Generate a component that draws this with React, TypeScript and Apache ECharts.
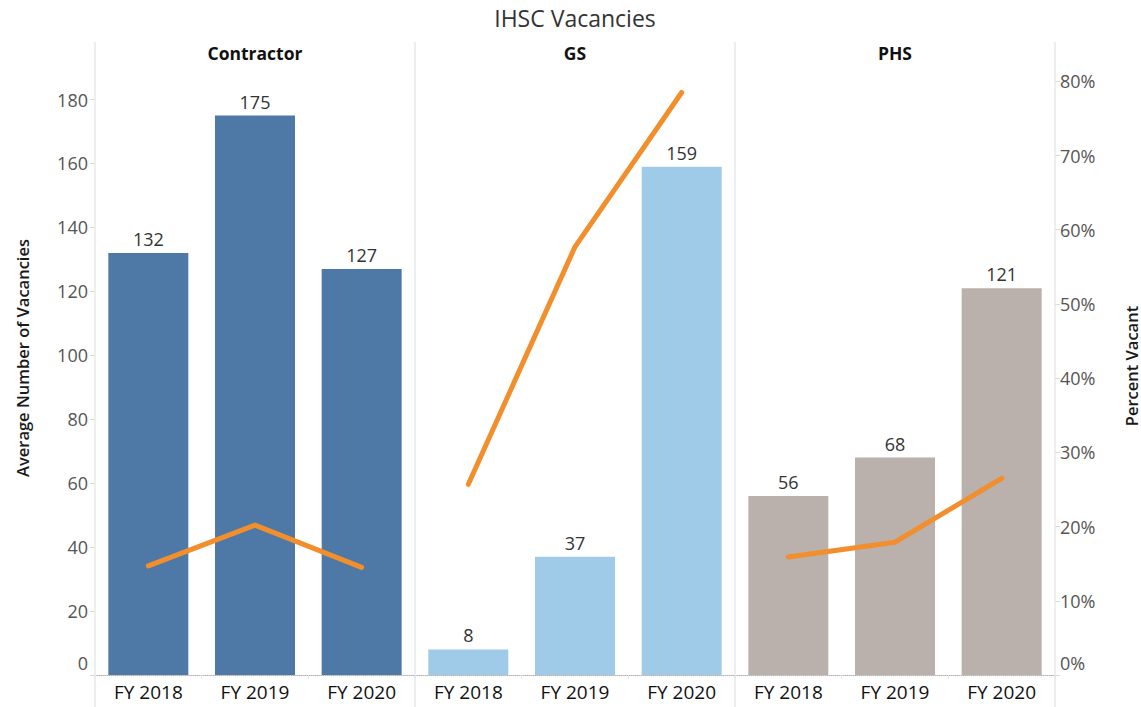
import React, { useEffect, useRef } from "react";
import * as echarts from "echarts";

const title = "IHSC Vacancies";
const panels = ["Contractor", "GS", "PHS"];
const years = ["FY 2018", "FY 2019", "FY 2020"];
const vacancies = [
  [132, 175, 127],
  [8, 37, 159],
  [56, 68, 121],
];
const percentVacant = [
  [0.147, 0.202, 0.145],
  [0.257, 0.577, 0.785],
  [0.159, 0.179, 0.265],
];
const barColors = ["#4e79a7", "#a0cbe8", "#bab0ac"];
const lineColor = "#f28e2b";
const leftAxisName = "Average Number of Vacancies";
const rightAxisName = "Percent Vacant";

const FONT = "'Open Sans', 'Noto Sans', sans-serif";

export default function App() {
  const ref = useRef<HTMLDivElement>(null);
  useEffect(() => {
    document.body.style.margin = "0";
    if (!ref.current) return;
    const chart = echarts.init(ref.current, null, { renderer: "svg" });
    const gridLeft = 95;
    const gridW = 320;
    const top = 42;
    const bottomY = 675;
    const H = 707;
    const grids = panels.map((_, i) => ({
      left: gridLeft + i * gridW,
      top,
      width: gridW,
      height: bottomY - top,
    }));
    const xAxes = panels.map((_, i) => ({
      type: "category",
      gridIndex: i,
      data: years,
      axisLine: { show: true, lineStyle: { color: "#b5b5b5", type: "dotted", width: 1 } },
      axisTick: { show: true, length: 4, lineStyle: { color: "#e6e6e6" } },
      axisLabel: { color: "#111", fontSize: 19, fontFamily: FONT, margin: 7 },
    }));
    const yAxes: any[] = [];
    panels.forEach((_, i) => {
      yAxes.push({
        type: "value",
        gridIndex: i,
        position: "left",
        min: 0,
        max: 198,
        interval: 20,
        splitLine: { show: false },
        axisLine: { show: false },
        axisTick: { show: i === 0, length: 5, lineStyle: { color: "#dcdcdc" } },
        axisLabel: {
          show: i === 0,
          color: "#555",
          fontSize: 18,
          fontFamily: FONT,
          margin: 7,
          showMaxLabel: false,
          formatter: (v: number) => (v === 0 ? "{z|0}" : String(v)),
          rich: { z: { padding: [0, 0, 24, 0], fontSize: 18, fontFamily: FONT, color: "#555" } },
        },
      });
      yAxes.push({
        type: "value",
        gridIndex: i,
        position: "right",
        min: 0,
        max: 0.853,
        interval: 0.1,
        splitLine: { show: false },
        axisLine: { show: false },
        axisTick: { show: i === 2, length: 5, inside: false, lineStyle: { color: "#dcdcdc" } },
        axisLabel: {
          show: i === 2,
          color: "#555",
          fontSize: 18,
          fontFamily: FONT,
          margin: 5,
          showMaxLabel: false,
          formatter: (v: number) => {
            const s = Math.round(v * 100) + "%";
            return v === 0 ? "{z|" + s + "}" : s;
          },
          rich: { z: { padding: [0, 0, 24, 0], fontSize: 18, fontFamily: FONT, color: "#555" } },
        },
      });
    });
    const series: any[] = [];
    panels.forEach((_, i) => {
      series.push({
        type: "bar",
        xAxisIndex: i,
        yAxisIndex: 2 * i,
        data: vacancies[i],
        barCategoryGap: "25%",
        itemStyle: { color: barColors[i] },
        label: {
          show: true,
          position: "top",
          distance: 5,
          color: "#333",
          fontSize: 18,
          fontFamily: FONT,
        },
        z: 2,
      });
      series.push({
        type: "line",
        xAxisIndex: i,
        yAxisIndex: 2 * i + 1,
        data: percentVacant[i],
        symbol: "none",
        lineStyle: { color: lineColor, width: 5, cap: "round", join: "round" },
        z: 3,
      });
    });
    const graphics: any[] = [];
    for (let k = 0; k <= 3; k++) {
      const x = gridLeft + k * gridW;
      graphics.push({
        type: "line",
        shape: { x1: x, y1: top, x2: x, y2: H },
        style: { stroke: "#dedede", lineWidth: 1 },
        silent: true,
      });
    }
    panels.forEach((p, i) => {
      graphics.push({
        type: "text",
        x: gridLeft + i * gridW + gridW / 2,
        y: 53,
        style: {
          text: p,
          fill: "#111",
          font: `bold 17.5px ${FONT}`,
          textAlign: "center",
          textVerticalAlign: "middle",
        },
      });
    });
    graphics.push({
      type: "text",
      x: gridLeft + (3 * gridW) / 2,
      y: 18,
      style: {
        text: title,
        fill: "#333",
        font: `23px ${FONT}`,
        textAlign: "center",
        textVerticalAlign: "middle",
      },
    });
    graphics.push({
      type: "text",
      x: 22,
      y: 358,
      rotation: Math.PI / 2,
      style: {
        text: leftAxisName,
        fill: "#1a1a1a",
        font: `600 16.5px ${FONT}`,
        textAlign: "center",
        textVerticalAlign: "middle",
      },
    });
    graphics.push({
      type: "text",
      x: 1131,
      y: 366,
      rotation: Math.PI / 2,
      style: {
        text: rightAxisName,
        fill: "#1a1a1a",
        font: `600 16.5px ${FONT}`,
        textAlign: "center",
        textVerticalAlign: "middle",
      },
    });
    chart.setOption({
      animation: false,
      grid: grids,
      xAxis: xAxes,
      yAxis: yAxes,
      series,
      graphic: graphics,
    });
    return () => chart.dispose();
  }, []);
  return <div ref={ref} style={{ width: 1141, height: 707 }} />;
}
